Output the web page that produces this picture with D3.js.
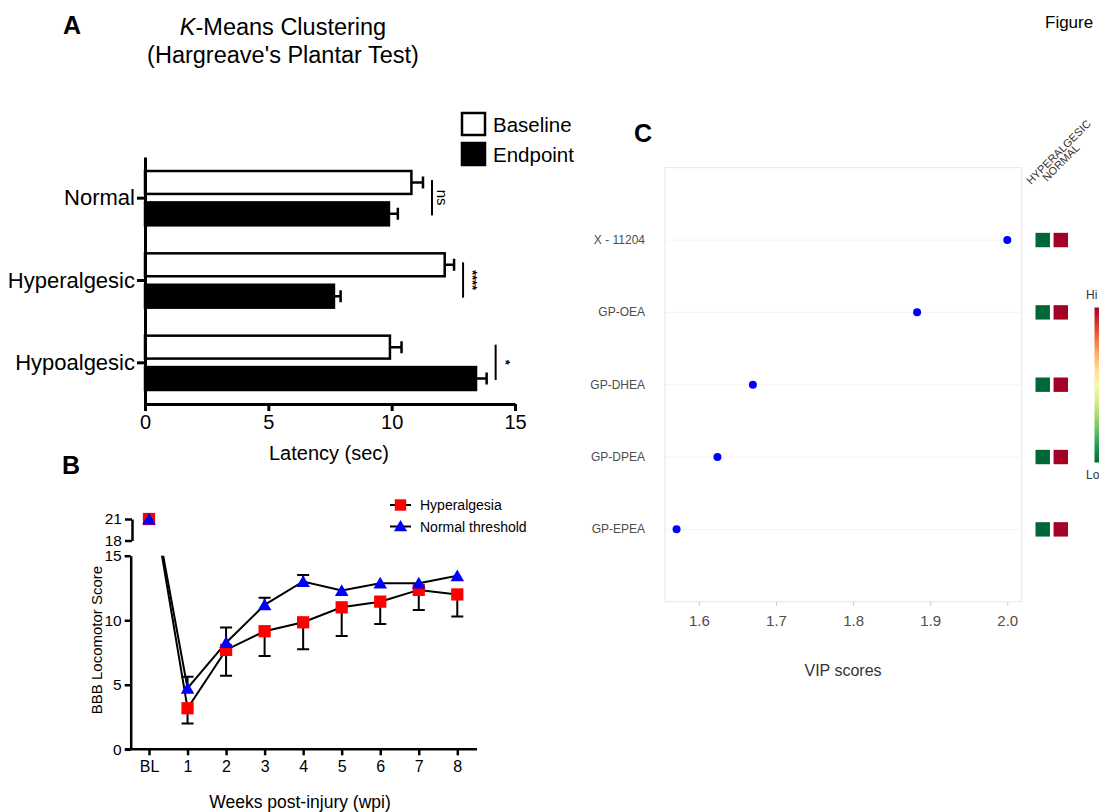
<!DOCTYPE html>
<html>
<head>
<meta charset="utf-8">
<script src="https://cdn.jsdelivr.net/npm/d3@7"></script>
<style>
  html, body { margin: 0; padding: 0; background: #fff; }
  svg { display: block; font-family: "Liberation Sans", Arial, Helvetica, sans-serif; }
</style>
</head>
<body>
<svg id="fig" width="1099" height="812"></svg>
<script>
// ---------- Panel A data ----------
const aCategories = ["Normal", "Hyperalgesic", "Hypoalgesic"];
const aSeries = ["Baseline", "Endpoint"];
const aBaseline = [10.8, 12.15, 9.93];
const aBaselineErr = [0.47, 0.38, 0.47];
const aEndpoint = [9.89, 7.66, 13.42];
const aEndpointErr = [0.36, 0.27, 0.43];
const aSignif = ["ns", "****", "*"];
const aTicks = [0, 5, 10, 15];

// ---------- Panel B data ----------
const bWeeks = ["BL", "1", "2", "3", "4", "5", "6", "7", "8"];
const bHyper = [21, 3.18, 7.7, 9.15, 9.84, 11.0, 11.44, 12.35, 12.0];
const bHyperErr = [0, 1.18, 2.0, 1.92, 2.09, 2.22, 1.73, 1.55, 1.72];
const bNormal = [21, 4.73, 8.26, 11.19, 13.0, 12.3, 12.87, 12.87, 13.44];
const bNormalErr = [0, 0.9, 1.17, 0.56, 0.5, 0, 0, 0, 0];
const bTicksLower = [0, 5, 10, 15];
const bTicksUpper = [18, 21];
const bLegend = ["Hyperalgesia", "Normal threshold"];

// ---------- Panel C data ----------
const cFeatures = ["X - 11204", "GP-OEA", "GP-DHEA", "GP-DPEA", "GP-EPEA"];
const cVip = [2.0, 1.883, 1.670, 1.624, 1.571];
const cGroups = ["HYPERALGESIC", "NORMAL"];
const cHeat = [[0, 1], [0, 1], [0, 1], [0, 1], [0, 1]];
const cTicks = [1.6, 1.7, 1.8, 1.9, 2.0];

const svg = d3.select("#fig");
svg.append("rect").attr("width", 1099).attr("height", 812).attr("fill", "#fff");

const FONT = "'Liberation Sans', Arial, Helvetica, sans-serif";

// ===================== Panel A =====================
(function () {
  const g = svg.append("g");
  g.append("text").attr("x", 63).attr("y", 34).attr("font-size", 25).attr("font-weight", "bold").text("A");
  const t1 = g.append("text").attr("x", 283).attr("y", 35).attr("text-anchor", "middle").attr("font-size", 23.5);
  t1.append("tspan").attr("font-style", "italic").text("K");
  t1.append("tspan").text("-Means Clustering");
  g.append("text").attr("x", 283).attr("y", 63).attr("text-anchor", "middle").attr("font-size", 23.5).text("(Hargreave's Plantar Test)");

  const x = d3.scaleLinear().domain([0, 15]).range([145, 515]);
  const y = d3.scaleBand().domain(aCategories).range([157, 404]);
  const ySub = d3.scaleBand().domain(aSeries).range([14, y.bandwidth() - 14]).paddingInner(0.27);

  const rows = aCategories.map((c, i) => ({
    cat: c,
    vals: [
      { s: "Baseline", v: aBaseline[i], e: aBaselineErr[i] },
      { s: "Endpoint", v: aEndpoint[i], e: aEndpointErr[i] }
    ],
    sig: aSignif[i]
  }));

  const grp = g.selectAll("g.cat").data(rows).join("g").attr("transform", d => `translate(0,${y(d.cat)})`);
  grp.selectAll("path.err").data(d => d.vals).join("path")
    .attr("d", d => {
      const cy = ySub(d.s) + ySub.bandwidth() / 2;
      return `M${x(d.v)},${cy}H${x(d.v + d.e)}M${x(d.v + d.e)},${cy - 6}V${cy + 6}`;
    })
    .attr("stroke", "#000").attr("stroke-width", 2.5).attr("fill", "none");
  grp.selectAll("rect.bar").data(d => d.vals).join("rect")
    .attr("x", x(0)).attr("y", d => ySub(d.s))
    .attr("width", d => x(d.v) - x(0)).attr("height", ySub.bandwidth())
    .attr("fill", d => d.s === "Baseline" ? "#fff" : "#000")
    .attr("stroke", "#000").attr("stroke-width", 2.5);

  grp.each(function (d) {
    const gg = d3.select(this);
    const maxV = d3.max(d.vals, v => v.v + v.e);
    const lx = x(maxV) + 9;
    const y0 = ySub("Baseline") + 9, y1 = ySub("Endpoint") + ySub.bandwidth() - 10;
    gg.append("line").attr("x1", lx).attr("x2", lx).attr("y1", y0).attr("y2", y1)
      .attr("stroke", "#000").attr("stroke-width", 2);
    gg.append("text").attr("transform", `translate(${lx + 5},${(y0 + y1) / 2}) rotate(90)`)
      .attr("text-anchor", "middle").attr("font-size", d.sig === "ns" ? 15 : 13)
      .attr("font-weight", d.sig === "ns" ? "normal" : "bold")
      .text(d.sig);
  });

  const xa = g.append("g").attr("transform", "translate(0,404)")
    .call(d3.axisBottom(x).tickValues(aTicks).tickSize(7).tickSizeOuter(0).tickPadding(4));
  xa.select(".domain").attr("stroke-width", 3);
  xa.selectAll(".tick line").attr("stroke-width", 3);
  xa.selectAll("text").attr("font-size", 20).attr("font-family", FONT).attr("fill", "#000");

  const ya = g.append("g").attr("transform", "translate(145,0)")
    .call(d3.axisLeft(y).tickSize(8).tickSizeOuter(0).tickPadding(2));
  ya.select(".domain").attr("stroke-width", 3);
  ya.selectAll(".tick line").attr("stroke-width", 3);
  ya.selectAll("text").attr("font-size", 22).attr("font-family", FONT).attr("fill", "#000");

  g.append("text").attr("x", 329).attr("y", 460).attr("text-anchor", "middle").attr("font-size", 20).text("Latency (sec)");

  const lg = g.selectAll("g.leg").data(aSeries).join("g").attr("transform", (d, i) => `translate(462,${113 + i * 30})`);
  lg.append("rect").attr("width", 23).attr("height", 22).attr("fill", d => d === "Baseline" ? "#fff" : "#000")
    .attr("stroke", "#000").attr("stroke-width", 2.5);
  lg.append("text").attr("x", 31).attr("y", 18.5).attr("font-size", 20.5).text(d => d);
})();

// ===================== Panel B =====================
(function () {
  const g = svg.append("g");
  g.append("text").attr("x", 62).attr("y", 474).attr("font-size", 25).attr("font-weight", "bold").text("B");

  const x = d3.scalePoint().domain(bWeeks).range([149, 457.3]);
  const y = d3.scaleLinear().domain([0, 15]).range([749.3, 555.7]);
  const yUp = d3.scaleLinear().domain([18, 21]).range([540.5, 519]);

  svg.append("defs").append("clipPath").attr("id", "clipB")
    .append("rect").attr("x", 125).attr("y", 555.7).attr("width", 360).attr("height", 200);

  const series = [
    { name: bLegend[0], vals: bHyper, err: bHyperErr, dir: -1, shape: "square", color: "#ff0000" },
    { name: bLegend[1], vals: bNormal, err: bNormalErr, dir: 1, shape: "triangle", color: "#0000ff" }
  ];

  const line = d3.line().x((d, i) => x(bWeeks[i])).y(d => y(d));
  series.forEach(s => {
    g.append("path").attr("d", line(s.vals)).attr("fill", "none").attr("stroke", "#000")
      .attr("stroke-width", 2).attr("clip-path", "url(#clipB)");
  });
  series.forEach(s => {
    s.vals.forEach((v, i) => {
      if (i === 0 || s.err[i] === 0) return;
      const xx = x(bWeeks[i]);
      const y2 = y(v + s.dir * s.err[i]);
      g.append("path").attr("d", `M${xx},${y(v)}V${y2}M${xx - 6},${y2}H${xx + 6}`)
        .attr("stroke", "#000").attr("stroke-width", 2).attr("fill", "none");
    });
  });
  const sym = { square: d3.symbolSquare, triangle: d3.symbolTriangle };
  series.forEach(s => {
    s.vals.forEach((v, i) => {
      const yy = i === 0 ? yUp(v) : y(v);
      g.append("path").attr("d", d3.symbol(sym[s.shape], s.shape === "square" ? 150 : 80)())
        .attr("transform", `translate(${x(bWeeks[i])},${yy + (s.shape === "triangle" ? 1.5 : 0)})`)
        .attr("fill", s.color);
    });
  });

  const xa = g.append("g").attr("transform", "translate(0,749.3)")
    .call(d3.axisBottom(x).tickSize(6).tickSizeOuter(0).tickPadding(5));
  xa.select(".domain").attr("d", "M125,0H477").attr("stroke-width", 2.5);
  xa.selectAll(".tick line").attr("stroke-width", 2.5);
  xa.selectAll("text").attr("font-size", 16).attr("font-family", FONT).attr("fill", "#000");

  const ya = g.append("g").attr("transform", "translate(130.7,0)")
    .call(d3.axisLeft(y).tickValues(bTicksLower).tickSize(6).tickSizeOuter(0).tickPadding(3));
  ya.select(".domain").attr("stroke-width", 2.5);
  ya.selectAll(".tick line").attr("stroke-width", 2.5);
  ya.selectAll("text").attr("font-size", 15.5).attr("font-family", FONT).attr("fill", "#000");

  const yb = g.append("g").attr("transform", "translate(132,0)")
    .call(d3.axisLeft(yUp).tickValues(bTicksUpper).tickFormat(d3.format("d")).tickSize(7).tickSizeOuter(0).tickPadding(3));
  yb.select(".domain").attr("stroke-width", 2.5);
  yb.selectAll(".tick line").attr("stroke-width", 2.5);
  yb.selectAll("text").attr("font-size", 15.5).attr("font-family", FONT).attr("fill", "#000");

  g.append("text").attr("transform", "translate(102,640) rotate(-90)").attr("text-anchor", "middle")
    .attr("font-size", 15).text("BBB Locomotor Score");
  g.append("text").attr("x", 300).attr("y", 808).attr("text-anchor", "middle")
    .attr("font-size", 17.5).text("Weeks post-injury (wpi)");

  const lg = g.selectAll("g.leg").data(series).join("g").attr("transform", (d, i) => `translate(390,${505 + i * 21.5})`);
  lg.append("line").attr("x1", 0).attr("x2", 21).attr("stroke", "#000").attr("stroke-width", 2);
  lg.append("path").attr("d", d => d3.symbol(sym[d.shape], d.shape === "square" ? 130 : 75)())
    .attr("transform", d => `translate(10.5,${d.shape === "triangle" ? 1 : 0})`).attr("fill", d => d.color);
  lg.append("text").attr("x", 30).attr("y", 5).attr("font-size", 14).text(d => d.name);
})();

// ===================== Panel C =====================
(function () {
  const g = svg.append("g");
  g.append("text").attr("x", 634).attr("y", 142).attr("font-size", 25).attr("font-weight", "bold").text("C");
  g.append("text").attr("x", 1045).attr("y", 28).attr("font-size", 17).text("Figure");

  const left = 665, right = 1021.7, top = 167.7, bottom = 601.7;
  const x = d3.scaleLinear().domain([1.556, 2.0187]).range([left, right]);
  const y = d3.scaleLinear().domain([0, cFeatures.length + 1]).range([top, bottom]);

  g.append("rect").attr("x", left).attr("y", top).attr("width", right - left).attr("height", bottom - top)
    .attr("fill", "none").attr("stroke", "#e6e6e6").attr("stroke-width", 1);

  g.selectAll("line.grid").data(cFeatures).join("line")
    .attr("x1", left).attr("x2", right).attr("y1", (d, i) => y(i + 1)).attr("y2", (d, i) => y(i + 1))
    .attr("stroke", "#f4f4f4").attr("stroke-width", 1);

  g.selectAll("text.feat").data(cFeatures).join("text")
    .attr("x", 645).attr("y", (d, i) => y(i + 1) + 4).attr("text-anchor", "end")
    .attr("font-size", 12).attr("fill", "#4d4d4d").text(d => d);

  g.selectAll("circle.pt").data(cVip).join("circle")
    .attr("cx", d => x(d)).attr("cy", (d, i) => y(i + 1)).attr("r", 4).attr("fill", "#0000ff");

  const xa = g.append("g").attr("transform", `translate(0,${bottom})`)
    .call(d3.axisBottom(x).tickValues(cTicks).tickFormat(d3.format(".1f")).tickSize(4).tickSizeOuter(0).tickPadding(10));
  xa.select(".domain").remove();
  xa.selectAll(".tick line").attr("stroke", "#cccccc");
  xa.selectAll("text").attr("font-size", 15).attr("font-family", FONT).attr("fill", "#4d4d4d");

  g.append("text").attr("x", 843).attr("y", 676).attr("text-anchor", "middle").attr("font-size", 16)
    .attr("fill", "#333").text("VIP scores");

  const hx = d3.scaleBand().domain(cGroups).range([1035.5, 1068]).paddingInner(0.2);
  const color = v => d3.interpolateRdYlGn(1 - v);
  cHeat.forEach((row, i) => {
    g.selectAll(null).data(row).join("rect")
      .attr("x", (v, j) => hx(cGroups[j])).attr("y", y(i + 1) - 7.2)
      .attr("width", hx.bandwidth()).attr("height", 14.4)
      .attr("fill", v => color(v));
  });

  g.selectAll("text.col").data(cGroups).join("text")
    .attr("transform", (d, j) => j === 0 ? "translate(1031,185) rotate(-45)" : "translate(1047,182) rotate(-45)")
    .attr("font-size", 11).attr("fill", "#333").text(d => d);

  const defs = svg.append("defs");
  const grad = defs.append("linearGradient").attr("id", "cbar").attr("x1", 0).attr("x2", 0).attr("y1", 0).attr("y2", 1);
  d3.range(0, 1.0001, 0.1).forEach(t => {
    grad.append("stop").attr("offset", t).attr("stop-color", color(1 - t));
  });
  g.append("rect").attr("x", 1094.5).attr("y", 307.5).attr("width", 12).attr("height", 155)
    .attr("fill", "url(#cbar)");
  g.append("text").attr("x", 1086).attr("y", 299).attr("font-size", 12).attr("fill", "#333").text("Hi");
  g.append("text").attr("x", 1086).attr("y", 479).attr("font-size", 12).attr("fill", "#333").text("Lo");
})();
</script>
</body>
</html>
